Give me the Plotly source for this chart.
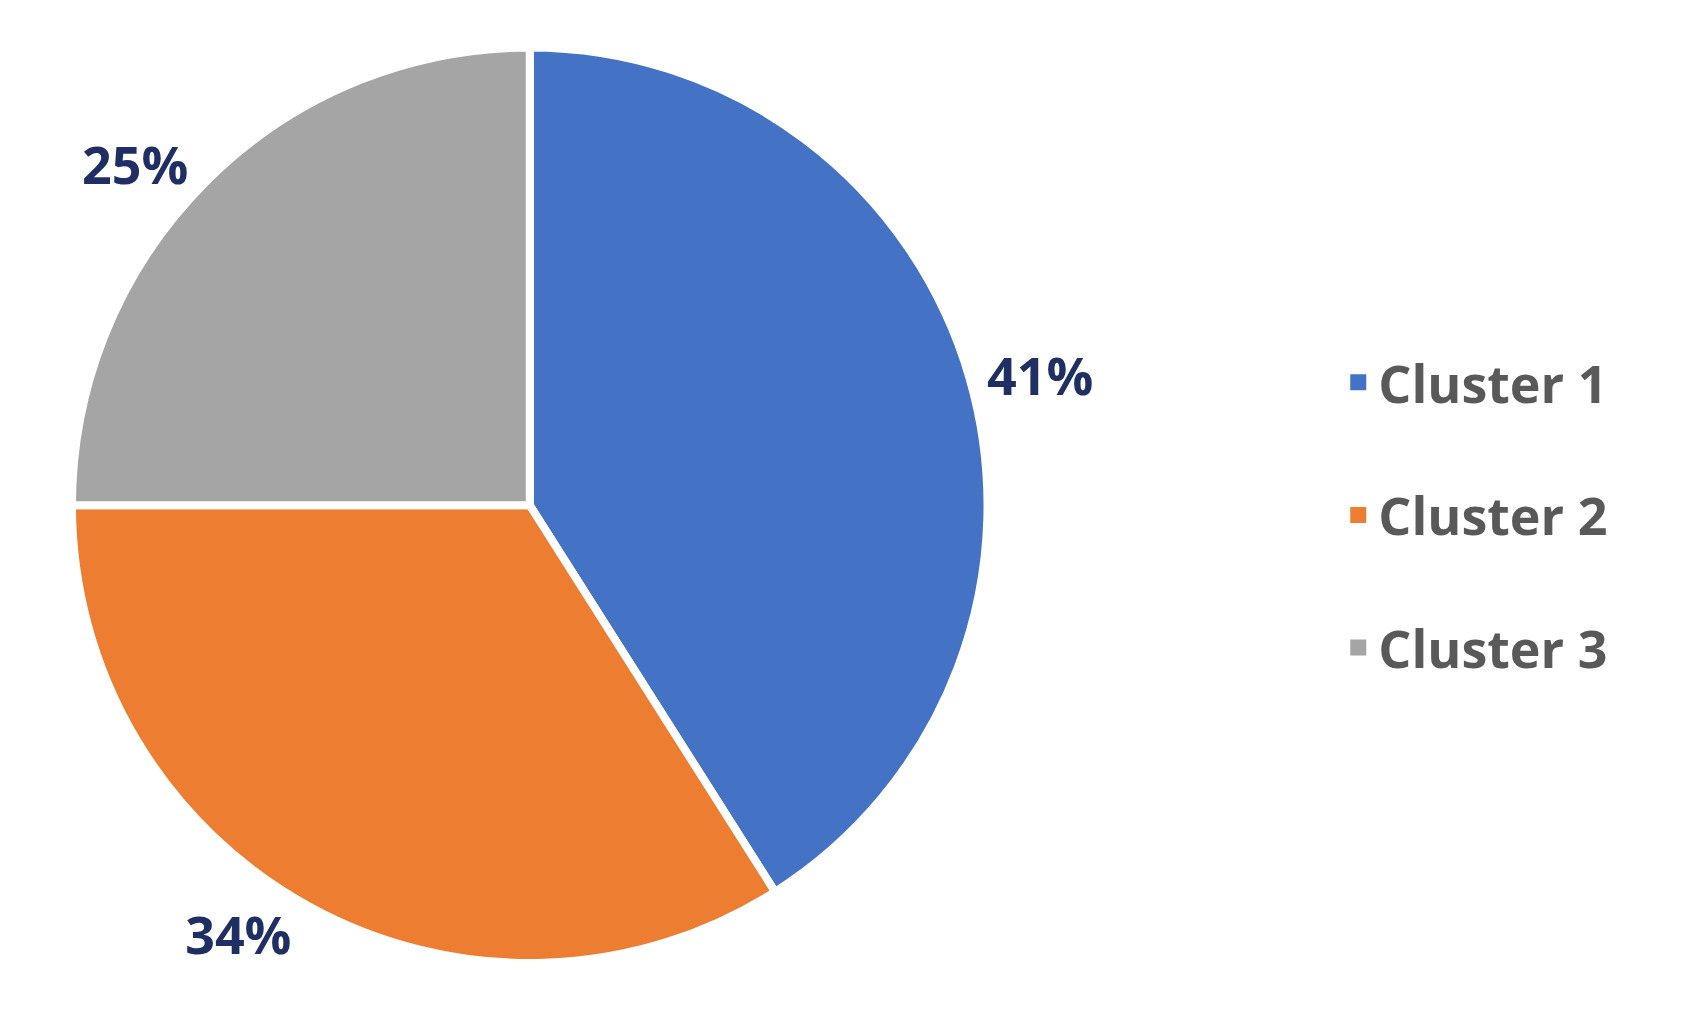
import plotly.graph_objects as go

labels = ["Cluster 1", "Cluster 2", "Cluster 3"]
values = [41, 34, 25]
colors = ["#4472C4", "#ED7D31", "#A5A5A5"]

fig = go.Figure(go.Pie(
    labels=labels, values=values, sort=False, direction="clockwise", rotation=0,
    marker=dict(colors=colors, line=dict(color="white", width=8)),
    textinfo="percent", texttemplate="%{percent:.0%}", textposition="outside",
    outsidetextfont=dict(size=52, color="#1F2F63", family="Open Sans", weight="bold"),
    domain=dict(x=[0.0, 0.59], y=[0.04, 0.98]),
    showlegend=False,
))
for lab, col in zip(labels, colors):
    fig.add_trace(go.Scatter(x=[None], y=[None], mode="markers", name=lab, legendgroup=lab,
                             marker=dict(symbol="square", size=16, color=col)))
fig.update_xaxes(visible=False)
fig.update_yaxes(visible=False)
fig.update_layout(
    width=1705, height=1014, paper_bgcolor="white", plot_bgcolor="white",
    margin=dict(l=20, r=20, t=20, b=20),
    font=dict(family="Open Sans", color="#595959"),
    legend=dict(x=0.785, y=0.5, yanchor="middle",
                font=dict(size=52, color="#595959", weight="bold"),
                itemwidth=30, tracegroupgap=62),
)
fig.write_html("out.html")
